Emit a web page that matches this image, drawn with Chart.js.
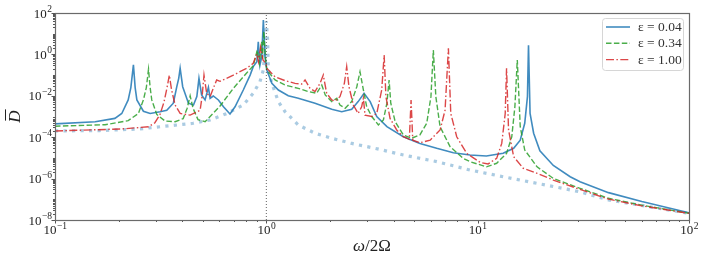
<!DOCTYPE html>
<html>
<head>
<meta charset="utf-8">
<script src="https://cdn.jsdelivr.net/npm/chart.js@4.4.1/dist/chart.umd.min.js"></script>
<style>
    html, body { margin: 0; padding: 0; background: #fff; }
    #chart { display: block; }
</style>
</head>
<body>
<canvas id="chart" width="706" height="265"></canvas>
<script>
// values (log-log axes)
const legendLabels = ['ε = 0.04', 'ε = 0.34', 'ε = 1.00'];
const xTickExps = [-1, 0, 1, 2];
const yTickExps = [-8, -6, -4, -2, 0, 2];

const blueX = [0.1, 0.155, 0.192, 0.207, 0.222, 0.2285, 0.235, 0.2395, 0.244, 0.262, 0.282, 0.314, 0.338, 0.363, 0.377, 0.385, 0.391, 0.397, 0.402, 0.428, 0.452, 0.469, 0.48, 0.494, 0.513, 0.532, 0.542, 0.561, 0.593, 0.627, 0.673, 0.711, 0.778, 0.838, 0.867, 0.902, 0.916, 0.933, 0.951, 0.968, 0.986, 1.005, 1.062, 1.14, 1.27, 1.416, 1.70, 2.04, 2.275, 2.535, 2.72, 2.90, 3.10, 3.33, 3.72, 4.45, 5.33, 6.40, 7.67, 9.2, 11.0, 13.2, 14.8, 15.9, 16.7, 17.2, 17.4, 17.7, 18.4, 19.7, 22.8, 27.4, 30.5, 41.6, 59.8, 100];
const blueY = [4.4e-4, 5.6e-4, 8.1e-4, 1.4e-3, 6.3e-3, 0.025, 0.31, 0.025, 6.3e-3, 1.8e-3, 1.4e-3, 1.7e-3, 2.0e-3, 4.4e-3, 0.0275, 0.07, 0.214, 0.07, 0.0275, 4.4e-3, 3.6e-3, 9.1e-3, 0.069, 0.011, 6.3e-3, 0.0257, 7.6e-3, 9.8e-3, 6.3e-3, 2.95e-3, 1.32e-3, 2.95e-3, 0.019, 0.1, 0.257, 0.447, 4.07, 0.31, 0.78, 45.7, 0.78, 0.178, 0.040, 0.019, 0.01, 7.6e-3, 4.4e-3, 2.24e-3, 1.7e-3, 2.24e-3, 5.25e-3, 0.0132, 5.25e-3, 1e-3, 3.24e-4, 1.05e-4, 5.0e-5, 2.9e-5, 1.78e-5, 1.38e-5, 1.23e-5, 1.66e-5, 2.9e-5, 7.2e-5, 4.7e-4, 9.1e-3, 2.8, 1.4e-3, 1.55e-4, 2.2e-5, 4.3e-6, 1.23e-6, 7.1e-7, 2.1e-7, 7.8e-8, 2.24e-8];

const greenX = [0.1, 0.1725, 0.222, 0.248, 0.262, 0.2705, 0.277, 0.282, 0.287, 0.303, 0.332, 0.37, 0.404, 0.422, 0.436, 0.45, 0.475, 0.513, 0.542, 0.604, 0.698, 0.807, 0.867, 0.906, 0.927, 0.951, 0.959, 0.973, 0.991, 1.005, 1.10, 1.226, 1.416, 1.58, 1.73, 1.83, 1.90, 2.04, 2.155, 2.23, 2.36, 2.535, 2.68, 2.775, 2.88, 2.985, 3.155, 3.39, 3.58, 3.72, 3.81, 3.88, 4.07, 4.45, 4.87, 5.33, 5.74, 6.01, 6.17, 6.34, 6.64, 7.4, 8.55, 9.2, 11.0, 12.3, 13.7, 14.5, 15.0, 15.4, 15.9, 16.7, 19.1, 22.8, 30.5, 41.6, 59.8, 100];
const greenY = [3.4e-4, 4.0e-4, 6.3e-4, 1.4e-3, 6.3e-3, 0.025, 0.19, 0.025, 6.3e-3, 1.26e-3, 6.0e-4, 5.6e-4, 7.9e-4, 2.5e-3, 0.01, 2.5e-3, 7.1e-4, 5.6e-4, 1e-3, 3.2e-3, 0.023, 0.126, 0.28, 1.6, 0.37, 4.1, 0.63, 13, 0.63, 0.178, 0.058, 0.033, 0.023, 0.016, 0.0132, 0.033, 0.011, 5.25e-3, 7.6e-3, 3.6e-3, 2.5e-3, 5.25e-3, 0.0275, 0.145, 0.019, 2.95e-3, 1e-3, 3.9e-4, 6.8e-4, 4.4e-3, 0.058, 4.4e-3, 5.6e-4, 1.29e-4, 8.9e-5, 1.29e-4, 4.7e-4, 9.1e-3, 1.62, 9.1e-3, 3.2e-4, 3.5e-5, 9.5e-6, 6.6e-6, 3.7e-6, 5.5e-6, 1.66e-5, 1.05e-4, 2.95e-3, 0.54, 3.2e-4, 2.4e-5, 3.7e-6, 1.02e-6, 3.4e-7, 1.12e-7, 5.2e-8, 2.1e-8];

const redX = [0.1, 0.207, 0.277, 0.297, 0.314, 0.328, 0.339, 0.3475, 0.356, 0.37, 0.391, 0.436, 0.486, 0.497, 0.507, 0.522, 0.542, 0.561, 0.582, 0.604, 0.698, 0.807, 0.867, 0.902, 0.918, 0.94, 0.964, 0.996, 1.005, 1.10, 1.226, 1.367, 1.47, 1.525, 1.61, 1.70, 1.795, 1.86, 1.93, 2.04, 2.115, 2.23, 2.34, 2.40, 2.46, 2.58, 2.72, 2.825, 2.88, 2.93, 3.155, 3.33, 3.515, 3.61, 3.68, 3.85, 4.14, 4.45, 4.75, 4.84, 4.93, 5.33, 5.96, 6.64, 7.01, 7.27, 7.46, 7.96, 8.87, 10.3, 11.2, 12.3, 13.0, 13.5, 13.7, 14.0, 14.8, 16.4, 19.1, 22.8, 30.5, 41.6, 59.8, 100];
const redY = [2.0e-4, 2.5e-4, 3.2e-4, 5.0e-4, 1.26e-3, 5.0e-3, 0.025, 0.1, 0.02, 3.6e-3, 1.4e-3, 1.17e-3, 2.0e-3, 0.01, 0.1, 0.0132, 9.1e-3, 0.023, 0.058, 0.05, 0.1, 0.214, 0.37, 1.07, 0.45, 2.24, 0.54, 0.37, 0.214, 0.083, 0.054, 0.04, 0.037, 0.058, 0.023, 0.016, 0.04, 0.1, 0.0132, 6.3e-3, 5.6e-3, 9.1e-3, 0.04, 0.257, 0.0275, 3.6e-3, 1.4e-3, 2.95e-3, 7.6e-3, 1.17e-3, 1e-3, 1.4e-3, 0.019, 0.93, 9.1e-3, 8.1e-4, 2.24e-4, 1.05e-4, 7.9e-5, 6.3e-3, 7.2e-5, 5.4e-5, 7.2e-5, 2.24e-4, 2.0e-3, 1.95, 1.4e-3, 1.05e-4, 1.66e-5, 6.0e-6, 5.1e-6, 9.5e-6, 5.0e-5, 1.4e-3, 0.214, 2.24e-4, 1.15e-5, 3.2e-6, 1.8e-6, 8.5e-7, 3.0e-7, 1.02e-7, 4.8e-8, 2.1e-8];

// light dotted reference curve
const baseX = [0.1, 0.163, 0.252, 0.314, 0.45, 0.542, 0.65, 0.778, 0.867, 0.933, 0.968, 0.992, 1.0, 1.014, 1.022, 1.062, 1.14, 1.226, 1.416, 1.70, 2.04, 2.535, 3.27, 4.45, 6.40, 9.2, 13.2, 19.1, 30.5, 41.6, 100];
const baseY = [2.0e-4, 2.1e-4, 2.5e-4, 3.2e-4, 4.7e-4, 6.8e-4, 1.4e-3, 3.6e-3, 0.0132, 0.048, 0.178, 5, 40, 5, 0.178, 0.04, 5.25e-3, 1.7e-3, 3.9e-4, 1.55e-4, 8.9e-5, 5.0e-5, 2.9e-5, 1.38e-5, 6.6e-6, 2.6e-6, 1.23e-6, 5.9e-7, 2.3e-7, 9.3e-8, 2.1e-8];

const vlineX = [1, 1];
const vlineY = [1e-8, 1e2];

const SERIF = '"Liberation Serif", serif';

function toPoints(xs, ys) {
    return xs.map((x, i) => ({ x: x, y: ys[i] }));
}

function lineSet(label, xs, ys, color, width, dash, order) {
    return {
        label: label,
        data: toPoints(xs, ys),
        borderColor: color,
        borderWidth: width,
        borderDash: dash,
        pointRadius: 0,
        tension: 0,
        fill: false,
        order: order
    };
}

function drawPow(ctx, exp, x, y, align) {
    const base = '10';
    const sup = exp < 0 ? '\u2212' + (-exp) : String(exp);
    ctx.font = '13px ' + SERIF;
    const wb = ctx.measureText(base).width;
    ctx.font = '9.5px ' + SERIF;
    const ws = ctx.measureText(sup).width;
    const left = align === 'center' ? x - (wb + ws) / 2 : x - (wb + ws);
    ctx.textAlign = 'left';
    ctx.textBaseline = 'alphabetic';
    ctx.font = '13px ' + SERIF;
    ctx.fillText(base, left, y);
    ctx.font = '9.5px ' + SERIF;
    ctx.fillText(sup, left + wb + 0.5, y - 5.5);
}

const axesPlugin = {
    id: 'axesPlugin',
    afterDraw(chart) {
        const ctx = chart.ctx;
        const a = chart.chartArea;
        const xs = chart.scales.x;
        const ys = chart.scales.y;
        ctx.save();
        ctx.strokeStyle = '#555';
        ctx.fillStyle = '#222';
        ctx.lineWidth = 1;

        // tick marks (majors at decades, minors at 2..9)
        ctx.beginPath();
        for (let e = -1; e <= 2; e++) {
            for (let m = 1; m <= 9; m++) {
                const v = m * Math.pow(10, e);
                if (v > 100.001) break;
                const px = Math.round(xs.getPixelForValue(v)) + 0.5;
                const len = m === 1 ? 3.5 : 2;
                ctx.moveTo(px, a.bottom);
                ctx.lineTo(px, a.bottom + len);
            }
        }
        for (let e = -8; e <= 2; e++) {
            for (let m = 1; m <= 9; m++) {
                const v = m * Math.pow(10, e);
                if (v > 100.001) break;
                const py = Math.round(ys.getPixelForValue(v)) + 0.5;
                const len = (m === 1 && e % 2 === 0) ? 3.5 : 2;
                ctx.moveTo(a.left, py);
                ctx.lineTo(a.left - len, py);
            }
        }
        ctx.stroke();

        // frame
        ctx.strokeStyle = '#6a6a6a';
        ctx.lineWidth = 1.2;
        ctx.strokeRect(Math.round(a.left) + 0.5, Math.round(a.top) + 0.5, Math.round(a.right - a.left), Math.round(a.bottom - a.top));

        // tick labels
        xTickExps.forEach(e => drawPow(ctx, e, xs.getPixelForValue(Math.pow(10, e)), a.bottom + 14, 'center'));
        yTickExps.forEach(e => drawPow(ctx, e, a.left - 3.5, ys.getPixelForValue(Math.pow(10, e)) + 4.5, 'right'));

        // axis titles
        ctx.textBaseline = 'alphabetic';
        ctx.font = 'italic 17px ' + SERIF;
        const wOmega = ctx.measureText('ω').width;
        ctx.font = '17px ' + SERIF;
        const wRest = ctx.measureText('/2Ω').width;
        const cx = (a.left + a.right) / 2;
        const tx = cx - (wOmega + wRest) / 2;
        ctx.textAlign = 'left';
        ctx.font = 'italic 17px ' + SERIF;
        ctx.fillText('ω', tx, 251);
        ctx.font = '17px ' + SERIF;
        ctx.fillText('/2Ω', tx + wOmega, 251);

        // y title: italic D with an overbar
        ctx.save();
        ctx.translate(20, (a.top + a.bottom) / 2);
        ctx.rotate(-Math.PI / 2);
        ctx.textAlign = 'center';
        ctx.font = 'italic 17px ' + SERIF;
        ctx.fillText('D', 0, 0);
        const wD = ctx.measureText('D').width;
        ctx.beginPath();
        ctx.strokeStyle = '#222';
        ctx.lineWidth = 1;
        ctx.moveTo(-wD / 2 + 2, -14.5);
        ctx.lineTo(wD / 2 + 1, -14.5);
        ctx.stroke();
        ctx.restore();

        // legend
        const lx = 602, ly = 18, lw = 81, lh = 52;
        ctx.beginPath();
        ctx.roundRect(lx + 0.5, ly + 0.5, lw, lh, 3);
        ctx.fillStyle = 'rgba(255,255,255,0.8)';
        ctx.fill();
        ctx.strokeStyle = '#d6d6d6';
        ctx.lineWidth = 1;
        ctx.stroke();
        chart.data.datasets.slice(0, 3).forEach((ds, i) => {
            const yy = ly + 9 + i * 16.3;
            ctx.beginPath();
            ctx.setLineDash(ds.borderDash || []);
            ctx.strokeStyle = ds.borderColor;
            ctx.lineWidth = ds.borderWidth;
            ctx.moveTo(lx + 4, yy);
            ctx.lineTo(lx + 28, yy);
            ctx.stroke();
            ctx.setLineDash([]);
            ctx.fillStyle = '#333';
            ctx.font = '13.5px ' + SERIF;
            ctx.textAlign = 'left';
            ctx.textBaseline = 'middle';
            ctx.fillText(ds.label, lx + 36, yy + 0.5);
        });
        ctx.restore();
    }
};

const ctx = document.getElementById('chart').getContext('2d');
new Chart(ctx, {
    type: 'line',
    data: {
        datasets: [
            lineSet(legendLabels[0], blueX, blueY, 'rgba(31,119,180,0.85)', 1.6, [], 3),
            lineSet(legendLabels[1], greenX, greenY, 'rgba(44,160,44,0.85)', 1.4, [5.5, 2.4], 2),
            lineSet(legendLabels[2], redX, redY, 'rgba(214,39,40,0.85)', 1.4, [8, 2.4, 1.5, 2.4], 1),
            lineSet('', baseX, baseY, 'rgba(31,119,180,0.38)', 3.2, [3.2, 5.3], 4),
            lineSet('', vlineX, vlineY, 'rgba(60,60,60,0.8)', 1, [1, 2], 0)
        ]
    },
    options: {
        responsive: false,
        animation: false,
        devicePixelRatio: 1,
        layout: { padding: { left: 0, right: 17, top: 13, bottom: 0 } },
        plugins: {
            legend: { display: false },
            tooltip: { enabled: false }
        },
        scales: {
            x: {
                type: 'logarithmic',
                min: 0.1,
                max: 100,
                grid: { display: false },
                border: { display: false },
                ticks: { display: false },
                afterFit: (s) => { s.height = 45; }
            },
            y: {
                type: 'logarithmic',
                min: 1e-8,
                max: 100,
                grid: { display: false },
                border: { display: false },
                ticks: { display: false },
                afterFit: (s) => { s.width = 55; }
            }
        }
    },
    plugins: [axesPlugin]
});
</script>
</body>
</html>
